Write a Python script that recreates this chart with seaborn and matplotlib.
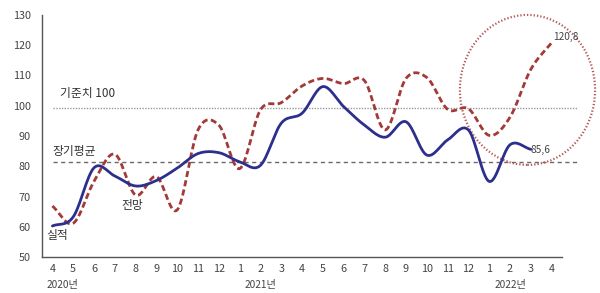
import numpy as np
import pandas as pd
import matplotlib
matplotlib.use("Agg")
import matplotlib.pyplot as plt
from matplotlib.patches import Ellipse
import matplotlib.transforms as mtransforms
import seaborn as sns

# ---- data ----
month_labels = ["4", "5", "6", "7", "8", "9", "10", "11", "12",
                "1", "2", "3", "4", "5", "6", "7", "8", "9", "10", "11", "12",
                "1", "2", "3", "4"]
year_labels = ["2020년", "2021년", "2022년"]
year_label_pos = [0.5, 10.0, 22.0]

actual = [60.3, 63.3, 79.5, 76.8, 73.5, 75.3, 79.4, 84.2, 84.5, 81.5, 80.3, 94.2,
          97.5, 106.3, 99.7, 93.6, 89.6, 94.7, 83.7, 88.7, 92.0, 75.0, 87.1, 85.6]
forecast = [66.9, 61.2, 75.0, 84.0, 70.5, 76.6, 65.6, 92.0, 93.6, 79.2, 98.6, 101.0,
            106.5, 109.0, 107.3, 108.3, 92.0, 109.0, 109.3, 98.8, 99.0, 90.2, 96.2, 112.0, 120.8]
baseline = 99.3      # 기준치 100 line
long_avg = 81.4      # 장기평균 line
actual_last_label = "85,6"
forecast_last_label = "120,8"


def smooth(y, n=16):
    """Catmull-Rom smoothing of a series for drawing (like Excel's smoothed line)."""
    y = np.asarray(y, dtype=float)
    x = np.arange(len(y), dtype=float)
    p = np.concatenate([[2 * y[0] - y[1]], y, [2 * y[-1] - y[-2]]])
    xs, ys = [], []
    for i in range(len(y) - 1):
        p0, p1, p2, p3 = p[i], p[i + 1], p[i + 2], p[i + 3]
        t = np.linspace(0, 1, n, endpoint=False)
        yy = 0.5 * ((2 * p1) + (-p0 + p2) * t + (2 * p0 - 5 * p1 + 4 * p2 - p3) * t ** 2
                    + (-p0 + 3 * p1 - 3 * p2 + p3) * t ** 3)
        xs.append(x[i] + t)
        ys.append(yy)
    xs.append([x[-1]])
    ys.append([y[-1]])
    return np.concatenate(xs), np.concatenate(ys)


sns.set_style("white")
plt.rcParams["font.family"] = ["Noto Sans CJK KR", "DejaVu Sans"]

fig = plt.figure(figsize=(6.0, 2.93), dpi=100)
ax = fig.add_axes([0.07, 0.1222, 0.8667, 0.8273])

# reference lines
ax.plot([0.05, 25.25], [baseline, baseline], color="#9a9a9a", lw=1.0,
        linestyle=(0, (1, 1)), clip_on=False, zorder=1)
ax.plot([0.05, 25.25], [long_avg, long_avg], color="#6a6a6a", lw=1.0,
        linestyle=(0, (3, 2.5)), clip_on=False, zorder=1)

xa, ya = smooth(actual)
xf, yf = smooth(forecast)
df_a = pd.DataFrame({"x": xa, "y": ya})
df_f = pd.DataFrame({"x": xf, "y": yf})

sns.lineplot(data=df_f, x="x", y="y", ax=ax, sort=False, estimator=None,
             color="#A23B38", lw=2.0, linestyle=(0, (2.2, 1.2)), zorder=3)
sns.lineplot(data=df_a, x="x", y="y", ax=ax, sort=False, estimator=None,
             color="#2D2F8C", lw=2.0, zorder=4)

# highlight ellipse
ell = Ellipse((22.84, 105.2), width=6.5, height=49.5, fill=False,
              edgecolor="#B65A5A", lw=1.6, linestyle=(0, (0.6, 0.9)),
              clip_on=False, zorder=2)
ax.add_patch(ell)

ax.set_xlim(-0.5, 24.5)
ax.set_ylim(50, 130)
ax.set_yticks(np.arange(50, 131, 10))
ax.set_xticks(np.arange(len(month_labels)))
ax.set_xticklabels(month_labels)
ax.set_xticks(np.arange(-0.5, 24.6, 1.0), minor=True)
ax.set_xlabel("")
ax.set_ylabel("")

for s in ["top", "right"]:
    ax.spines[s].set_visible(False)
for s in ["left", "bottom"]:
    ax.spines[s].set_color("#555555")
    ax.spines[s].set_linewidth(1.0)

ax.tick_params(axis="x", which="major", length=0, pad=5, labelsize=7.8, labelcolor="#444444")
ax.tick_params(axis="x", which="minor", direction="in", length=3, color="#555555", width=1)
ax.tick_params(axis="y", which="major", direction="in", length=3, color="#555555", width=1,
               pad=8, labelsize=7.8, labelcolor="#444444")

trans = mtransforms.blended_transform_factory(ax.transData, ax.transAxes)
for lab, pos in zip(year_labels, year_label_pos):
    ax.text(pos, -0.115, lab, transform=trans, ha="center", va="center",
            fontsize=7.3, color="#444444")

txt_kw = dict(fontsize=8.5, color="#333333", va="center")
ax.text(0.35, 104.0, "기준치 100", **txt_kw)
ax.text(0.0, 85.0, "장기평균", **txt_kw)
ax.text(3.3, 67.0, "전망", **txt_kw)
ax.text(-0.3, 57.0, "실적", **txt_kw)

ax.text(24.05, 122.7, forecast_last_label, fontsize=7.3, color="#444444", va="center")
ax.text(23.0, 85.5, actual_last_label, fontsize=7.3, color="#444444", va="center")

fig.savefig("out.png", dpi=100)
